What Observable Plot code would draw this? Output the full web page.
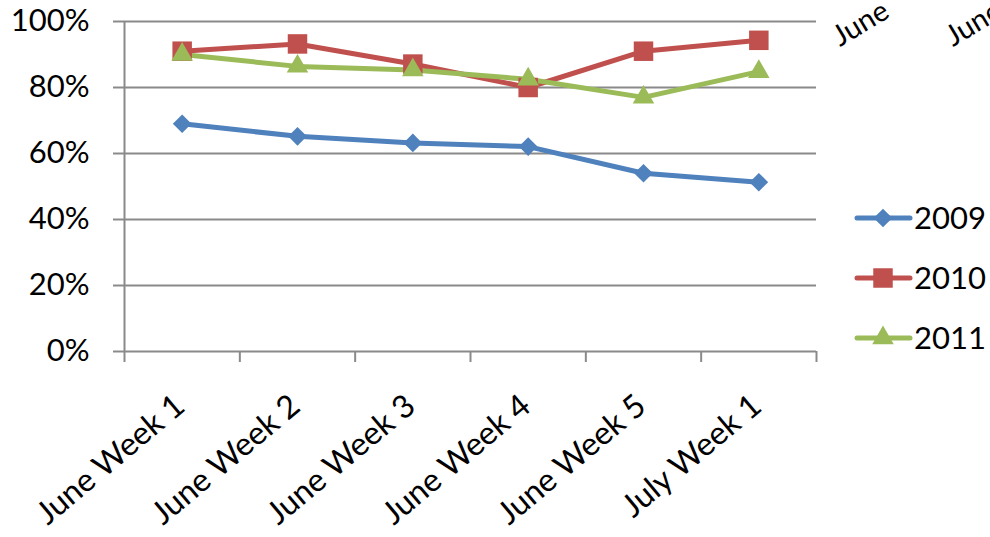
<!DOCTYPE html>
<html><head><meta charset="utf-8">
<script src="https://cdn.jsdelivr.net/npm/d3@7"></script>
<script src="https://cdn.jsdelivr.net/npm/@observablehq/plot@0.6"></script>
<style>
html,body{margin:0;padding:0;background:#fff;overflow:hidden;}
#wrap{position:relative;width:990px;height:537px;font-family:Lato,"Open Sans",sans-serif;overflow:hidden;}
.overlay{position:absolute;left:0;top:0;pointer-events:none;}
</style></head>
<body><div id="wrap"></div>
<script>
const categories = ["June Week 1","June Week 2","June Week 3","June Week 4","June Week 5","July Week 1"];
const years = ["2009","2010","2011"];
const v2009 = [0.69,0.652,0.632,0.621,0.54,0.513];
const v2010 = [0.91,0.932,0.871,0.80,0.91,0.943];
const v2011 = [0.90,0.864,0.853,0.825,0.77,0.848];
const yTicks = [0,0.2,0.4,0.6,0.8,1.0];
const colors = ["#4F81BD","#C0504D","#9BBB59"];
const symbols = ["diamond2","square","triangle"];
const markerR = [8.4,11,8];
const strayLabels = ["June","June"];

const series = [v2009,v2010,v2011];
const data = [];
years.forEach((y,s)=>series[s].forEach((v,i)=>data.push({year:y,xi:i+0.5,value:v,cat:categories[i]})));

const font = "Lato, 'Open Sans', sans-serif";
const chart = Plot.plot({
  width:990,height:537,
  marginLeft:124,marginRight:174,marginTop:21,marginBottom:186,
  style:{fontFamily:font,background:"#fff",color:"#000"},
  x:{domain:[0,categories.length],axis:null,label:null},
  y:{domain:[0,1],axis:null,label:null},
  color:{domain:years,range:colors},
  symbol:{domain:years,range:symbols},
  marks:[
    Plot.gridY(yTicks,{stroke:"#8a8a8a",strokeOpacity:1,strokeWidth:2}),
    Plot.axisY(yTicks,{label:null,tickSize:11,stroke:"#8a8a8a",strokeWidth:2,tickPadding:24,fontSize:31,tickFormat:d=>Math.round(d*100)+"%",fill:"#000"}),
    Plot.ruleX([0],{stroke:"#8a8a8a",strokeWidth:2}),
    Plot.axisX(d3.range(categories.length+1),{label:null,tickSize:11,stroke:"#8a8a8a",strokeWidth:2,tickFormat:()=>""}),
    Plot.axisX(categories.map((c,i)=>i+0.5),{label:null,tickSize:0,tickRotate:-40,tickPadding:12,dy:38,dx:-2,fontSize:32,fill:"#000",tickFormat:d=>categories[Math.floor(d)]}),
    Plot.line(data,{x:"xi",y:"value",z:"year",stroke:"year",strokeWidth:5,strokeLinejoin:"round"}),
    ...years.map((y,i)=>Plot.dot(data.filter(d=>d.year===y),{x:"xi",y:"value",fill:colors[i],symbol:symbols[i],r:markerR[i],stroke:"none"}))
  ]
});
const wrap = document.getElementById("wrap");
wrap.appendChild(chart);

const ov = d3.select(wrap).append("svg").attr("class","overlay").attr("width",990).attr("height",537)
  .attr("font-family",font);

// legend
const legY = [218,278,338];
years.forEach((y,i)=>{
  const g = ov.append("g").attr("transform",`translate(855,${legY[i]})`);
  g.append("line").attr("x1",2).attr("x2",55).attr("stroke",colors[i]).attr("stroke-width",5).attr("stroke-linecap","round");
  const r = markerR[i];
  g.append("path").attr("transform","translate(28,0)").attr("fill",colors[i])
   .attr("d",d3.symbol().type([d3.symbolDiamond2,d3.symbolSquare,d3.symbolTriangle][i]).size(r*r*Math.PI)());
  g.append("text").attr("x",59).attr("dy","0.36em").attr("font-size",31).text(y);
});

// stray partially visible labels at top right
const strayPos = [[840,47],[953,47]];
strayLabels.forEach((t,i)=>{
  ov.append("text").attr("transform",`translate(${strayPos[i][0]},${strayPos[i][1]}) rotate(-31)`)
    .attr("text-anchor","start").attr("font-size",29).text(t);
});
</script></body></html>
